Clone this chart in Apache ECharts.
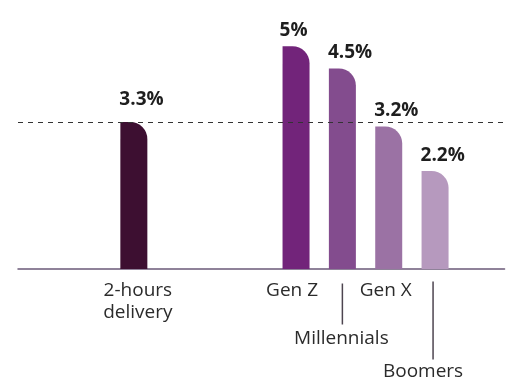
<!DOCTYPE html>
<html>
<head>
<meta charset="utf-8">
<script src="https://cdn.jsdelivr.net/npm/echarts@6/dist/echarts.min.js"></script>
<style>
html,body{margin:0;padding:0;background:#fff;}
#chart{width:510px;height:383px;}
</style>
</head>
<body>
<div id="chart"></div>
<script>
// ---- data ----
const categories = ['2-hours delivery', 'Gen Z', 'Millennials', 'Gen X', 'Boomers'];
const values = [3.3, 5, 4.5, 3.2, 2.2];
const valueLabels = ['3.3%', '5%', '4.5%', '3.2%', '2.2%'];
const referenceValue = 3.3;

// ---- styling / layout ----
const barColors = ['#3d0f31', '#72247a', '#834c8e', '#9b72a4', '#b699be'];
const slotOf = [5, 12, 14, 16, 18];   // category slot of each bar on the axis
const slotCount = 22;
const FONT = '"Open Sans", "Noto Sans", sans-serif';

const axisCats = [];
const seriesData = [];
for (let i = 0; i < slotCount; i++) { axisCats.push('s' + i); seriesData.push('-'); }
categories.forEach((c, k) => {
  axisCats[slotOf[k]] = c;
  seriesData[slotOf[k]] = {
    value: values[k],
    itemStyle: { color: barColors[k] },
    label: { position: [k === 1 ? -3 : -1, k === 0 ? -13 : -6] },
    _txt: valueLabels[k]
  };
});

const labelRich = {
  '2-hours delivery': '{sp8|}{t|2-hours}\n{sp8|}{t|delivery}',
  'Gen Z': '{t|Gen Z}{sp8|}',
  'Millennials': '{ln|}\n{t|Millennials}{sp2|}',
  'Gen X': '{t|Gen X}{sp6|}',
  'Boomers': '{lnb|}{sp4|}\n{t|Boomers}{sp24|}'
};

const chart = echarts.init(document.getElementById('chart'), null, { renderer: 'canvas' });
chart.setOption({
  animation: false,
  backgroundColor: '#ffffff',
  grid: { left: 18, right: 510 - 18 - 21 * 23.17, top: 24, bottom: 114, containLabel: false },
  xAxis: {
    type: 'category',
    data: axisCats,
    boundaryGap: false,
    axisLine: { show: true, lineStyle: { color: '#6b5a78', width: 1.5 } },
    axisTick: { show: false },
    axisLabel: {
      interval: 0,
      margin: 11,
      hideOverlap: false,
      formatter: v => labelRich[v] || '',
      rich: {
        t: { fontSize: 19, lineHeight: 22, color: '#2b2b2b', fontFamily: FONT },
        ln: { width: 1.5, height: 41, lineHeight: 48, backgroundColor: '#4d4550' },
        lnb: { width: 1.5, height: 78, lineHeight: 81, backgroundColor: '#4d4550' },
        sp2: { width: 2 },
        sp4: { width: 4 },
        sp6: { width: 6 },
        sp8: { width: 8 },
        sp24: { width: 24 }
      }
    },
    splitLine: { show: false }
  },
  yAxis: {
    type: 'value',
    min: 0,
    max: 5.5,
    show: false,
    splitLine: { show: false }
  },
  series: [{
    type: 'bar',
    data: seriesData,
    barWidth: 27,
    itemStyle: { borderRadius: [0, 17, 0, 0] },
    label: {
      show: true,
      align: 'left',
      verticalAlign: 'bottom',
      fontFamily: FONT,
      fontWeight: 'bold',
      fontSize: 19,
      lineHeight: 19,
      color: '#1e1e1e',
      formatter: p => (p.data && p.data._txt) || ''
    },
    markLine: {
      silent: true,
      symbol: 'none',
      label: { show: false },
      lineStyle: { type: [5, 5], color: '#333333', width: 1.2 },
      data: [{ yAxis: referenceValue }]
    }
  }]
});
</script>
</body>
</html>
